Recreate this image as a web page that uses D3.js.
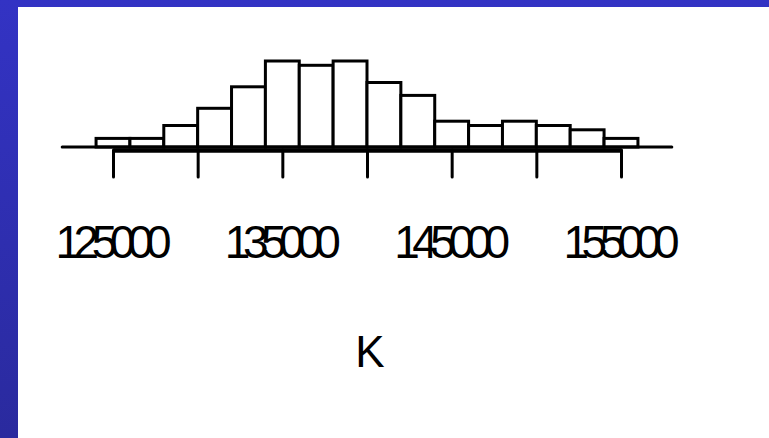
<!DOCTYPE html>
<html>
<head>
<meta charset="utf-8">
<script src="https://cdn.jsdelivr.net/npm/d3@7"></script>
<style>
  body { margin: 0; padding: 0; overflow: hidden; }
  svg { display: block; }
  .tick-label { font-family: "Liberation Sans", Arial, sans-serif; font-size: 46px; fill: #000; }
  .axis-title { font-family: "Liberation Sans", Arial, sans-serif; font-size: 44px; fill: #000; }
</style>
</head>
<body>
<svg id="chart"></svg>
<script>
// histogram data: bins of width 2000
const binEdges = [124000, 126000, 128000, 130000, 132000, 134000, 136000, 138000, 140000,
                  142000, 144000, 146000, 148000, 150000, 152000, 154000, 156000];
const counts = [2, 2, 5, 9, 14, 20, 19, 20, 15, 12, 6, 5, 6, 5, 4, 2];
const tickValues = [125000, 130000, 135000, 140000, 145000, 150000, 155000];
const labelValues = [125000, 135000, 145000, 155000];
const baselineRange = [122000, 158000];
const xTitle = "K";

const svgWidth = 769;
const svgHeight = 438;

const svg = d3.select("#chart")
  .attr("width", svgWidth)
  .attr("height", svgHeight);

// blue slide frame
const grad = svg.append("defs").append("linearGradient")
  .attr("id", "frameGrad")
  .attr("x1", 0).attr("y1", 0).attr("x2", 0).attr("y2", 1);
grad.append("stop").attr("offset", "0%").attr("stop-color", "#3333c4");
grad.append("stop").attr("offset", "100%").attr("stop-color", "#2a2a9e");

svg.append("rect")
  .attr("width", svgWidth).attr("height", svgHeight)
  .attr("fill", "url(#frameGrad)");
svg.append("rect")
  .attr("x", 18).attr("y", 7)
  .attr("width", svgWidth - 18).attr("height", svgHeight - 7)
  .attr("fill", "#fff");

// scales
const xScale = d3.scaleLinear()
  .domain([125000, 155000])
  .range([113, 621]);

const yScale = d3.scaleLinear()
  .domain([0, 20])
  .range([147, 61]);

// bars
svg.append("g").selectAll("rect")
  .data(counts)
  .enter().append("rect")
  .attr("x", (d, i) => xScale(binEdges[i]))
  .attr("y", d => yScale(d))
  .attr("width", (d, i) => xScale(binEdges[i + 1]) - xScale(binEdges[i]))
  .attr("height", d => yScale(0) - yScale(d))
  .attr("fill", "#fff")
  .attr("stroke", "#000")
  .attr("stroke-width", 3);

// thin baseline under the bars
svg.append("line")
  .attr("x1", xScale(baselineRange[0]))
  .attr("x2", xScale(baselineRange[1]))
  .attr("y1", yScale(0))
  .attr("y2", yScale(0))
  .attr("stroke", "#000")
  .attr("stroke-width", 3)
  .attr("stroke-linecap", "round");

// x axis
const xAxis = d3.axisBottom(xScale)
  .tickValues(tickValues)
  .tickSizeInner(27)
  .tickSizeOuter(0)
  .tickFormat(d => labelValues.includes(d) ? d3.format("d")(d) : "");

const xAxisGroup = svg.append("g")
  .attr("transform", "translate(0,150)")
  .call(xAxis);

xAxisGroup.select(".domain")
  .attr("stroke", "#000")
  .attr("stroke-width", 4.5);

xAxisGroup.selectAll(".tick line")
  .attr("stroke", "#000")
  .attr("stroke-width", 3)
  .attr("stroke-linecap", "round");

// labels are squeezed together, digits nearly touching
xAxisGroup.selectAll(".tick text")
  .attr("class", "tick-label")
  .attr("y", 108)
  .attr("dy", 0)
  .attr("font-family", null)
  .attr("font-size", null)
  .each(function(d) {
    if (labelValues.includes(d)) {
      d3.select(this)
        .attr("textLength", 116)
        .attr("lengthAdjust", "spacing");
    }
  });

// axis title
svg.append("text")
  .attr("class", "axis-title")
  .attr("x", xScale(140000) + 3)
  .attr("y", 367)
  .attr("text-anchor", "middle")
  .text(xTitle);
</script>
</body>
</html>
